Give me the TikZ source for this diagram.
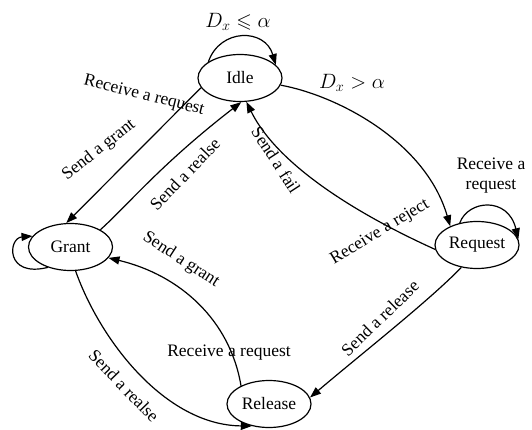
\documentclass[tikz,border=0pt]{standalone}
\usepackage{amssymb}
\usepackage{fontspec}
\setmainfont{Liberation Serif}
\usetikzlibrary{shapes.geometric,arrows.meta}
\begin{document}
\begin{tikzpicture}[x=1pt,y=-1pt,
  state/.style={ellipse,draw,line width=1.2pt,minimum width=84pt,minimum height=47pt,inner sep=0pt,font=\rmfamily\fontsize{17.5}{20}\selectfont},
  lbl/.style={font=\rmfamily\fontsize{17.5}{20}\selectfont,inner sep=0pt},
  mlbl/.style={font=\fontsize{20}{24}\selectfont,inner sep=0pt},
  conn/.style={line width=1.2pt,-{Triangle[length=11pt,width=8pt]}},
]
\useasboundingbox (0,0) rectangle (532,430);
% states
\node[state] (idle) at (240,78) {Idle};
\node[state] (grant) at (70.5,247) {Grant};
\node[state] (request) at (477,245) {Request};
\node[state] (release) at (269,404) {Release};
% connectors
\draw[conn] (idle.194) -- (grant.100);
\draw[conn] (grant.30) .. controls (128,205) and (160,165) .. (idle.273);
\draw[conn] (idle.153) .. controls (220,28) and (265,28) .. (idle.20);
\draw[conn] (idle.350) .. controls (335,95) and (425,140) .. (request.145);
\draw[conn] (request.186) .. controls (370,220) and (280,170) .. (idle.285);
\draw[conn] (request.128) .. controls (468,200) and (508,196) .. (request.8);
\draw[conn] (request.235) .. controls (430,300) and (360,355) .. (release.9);
\draw[conn] (release.147) .. controls (230,320) and (180,275) .. (grant.344);
\draw[conn] (grant.282) .. controls (100,340) and (165,425) .. (release.232);
\draw[conn] (grant.222) .. controls (5,278) and (8,238) .. (grant.164);
% labels
\node[lbl,rotate=-14] (l1) at (144,96) {Receive a request};
\node[lbl,rotate=38] (l2) at (99,150) {Send a grant};
\node[lbl,rotate=46] (l3) at (185,174) {Send a realse};
\node[mlbl] (l4) at (238,22) {$D_x\leqslant\alpha$};
\node[mlbl] (l5) at (352,83) {$D_x>\alpha$};
\node[lbl,rotate=-57] (l6) at (276,160) {Send a fail};
\node[lbl,rotate=31] (l7) at (380,232) {Receive a reject};
\node[lbl,align=center] (l8) at (491,176) {Receive a\\request};
\node[lbl,rotate=44] (l9) at (380,318) {Send a release};
\node[lbl] (l10) at (229,353) {Receive a request};
\node[lbl,rotate=-33] (l11) at (181,260) {Send a grant};
\node[lbl,rotate=-46] (l12) at (124,386) {Send a realse};
\end{tikzpicture}
\end{document}
